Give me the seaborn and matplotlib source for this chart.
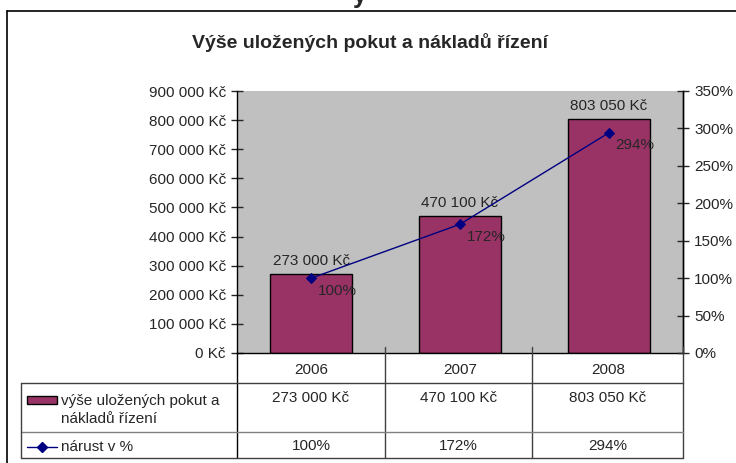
import numpy as np
import pandas as pd
import seaborn as sns
import matplotlib.pyplot as plt
from matplotlib.lines import Line2D
from matplotlib.patches import Rectangle
from matplotlib.ticker import FuncFormatter, MultipleLocator

years = ['2006', '2007', '2008']
fines = [273000, 470100, 803050]
growth = [100, 172, 294]
bar_label = 'výše uložených pokut a\nnákladů řízení'
line_label = 'nárust v %'
title = 'Výše uložených pokut a nákladů řízení'

df = pd.DataFrame({'rok': years, 'pokuty': fines, 'narust': growth})

sns.set_style('white')
plt.rcParams['font.family'] = ['Liberation Sans', 'DejaVu Sans']

W, H = 736, 463
fig = plt.figure(figsize=(W / 100, H / 100), dpi=100)


def px(x, y):
    return x / W, 1 - y / H


def hline(x0, x1, y, lw=1.0, color='black'):
    fig.add_artist(Line2D([x0 / W, x1 / W], [1 - y / H, 1 - y / H], color=color, lw=lw))


def vline(x, y0, y1, lw=1.0, color='black'):
    fig.add_artist(Line2D([x / W, x / W], [1 - y0 / H, 1 - y1 / H], color=color, lw=lw))


# plot area
L, T, R, B = 237, 91, 683, 353
ax = fig.add_axes([L / W, 1 - B / H, (R - L) / W, (B - T) / H])
ax.set_facecolor('#C0C0C0')
sns.barplot(data=df, x='rok', y='pokuty', color='#993366', edgecolor='black',
            linewidth=1, width=0.55, saturation=1, ax=ax)
ax.set_xlim(-0.5, 2.5)
ax.set_ylim(0, 900000)
ax.yaxis.set_major_locator(MultipleLocator(100000))
ax.yaxis.set_major_formatter(FuncFormatter(lambda v, p: f'{int(v):,} Kč'.replace(',', ' ')))
ax.set_xlabel('')
ax.set_ylabel('')
ax.tick_params(axis='y', direction='inout', length=8, width=1, labelsize=11, pad=4)
ax.tick_params(axis='x', length=0, labelsize=11, pad=7)
for s in ['left', 'bottom', 'right']:
    ax.spines[s].set_color('black')
    ax.spines[s].set_linewidth(1)
ax.spines['top'].set_visible(False)

for i, v in enumerate(fines):
    ax.text(i, v + 20000, f'{v:,} Kč'.replace(',', ' '), ha='center', va='bottom', fontsize=11)

ax2 = ax.twinx()
sns.lineplot(x=np.arange(len(years)), y=growth, color='#000080', marker='D',
             markersize=5, markeredgecolor='#000080', linewidth=1, ax=ax2)
ax2.set_ylim(0, 350)
ax2.yaxis.set_major_locator(MultipleLocator(50))
ax2.yaxis.set_major_formatter(FuncFormatter(lambda v, p: f'{int(v)}%'))
ax2.tick_params(axis='y', direction='inout', length=8, width=1, labelsize=11, pad=4)
for s in ['left', 'bottom', 'top']:
    ax2.spines[s].set_visible(False)
ax2.spines['right'].set_color('black')
ax2.spines['right'].set_linewidth(1)
for i, v in enumerate(growth):
    ax2.annotate(f'{v}%', (i, v), xytext=(5, -4), textcoords='offset points',
                 ha='left', va='top', fontsize=11)

# title (and the cut-off heading letter above the chart frame)
fig.text(*px(370, 42), title, ha='center', va='center', fontsize=14, fontweight='bold')
fig.text(*px(360, 3), 'y', ha='center', va='baseline', fontsize=18, fontweight='bold')

# outer frame
hline(7, W + 5, 11, lw=1.2)
vline(7, 11, H + 5, lw=1.2)

# data table
cols = [L, 385, 532, R]
vline(L, B, 458)
for x in cols[1:]:
    vline(x, B - 6, 458, color='#404040')
hline(21, R, 383, color='#404040')
hline(21, R, 432, color='#808080')
hline(21, R, 458, color='#404040')
vline(21, 383, 458, color='#404040')

centers = [(cols[k] + cols[k + 1]) / 2 for k in range(3)]
for k in range(3):
    fig.text(*px(centers[k], 398), f'{fines[k]:,} Kč'.replace(',', ' '),
             ha='center', va='center', fontsize=11)
    fig.text(*px(centers[k], 446), f'{growth[k]}%', ha='center', va='center', fontsize=11)

fig.add_artist(Rectangle(px(27, 404), 30 / W, 8 / H, facecolor='#993366',
                         edgecolor='black', lw=1, transform=fig.transFigure))
fig.text(*px(61, 410), bar_label, ha='left', va='center', fontsize=11, linespacing=1.45)
fig.add_artist(Line2D([27 / W, 57 / W], [1 - 447 / H] * 2, color='#000080', lw=1,
                      transform=fig.transFigure))
fig.add_artist(Line2D([42 / W], [1 - 447 / H], color='#000080', marker='D', markersize=5,
                      transform=fig.transFigure))
fig.text(*px(61, 447), line_label, ha='left', va='center', fontsize=11)

fig.savefig('out.png', dpi=100)
